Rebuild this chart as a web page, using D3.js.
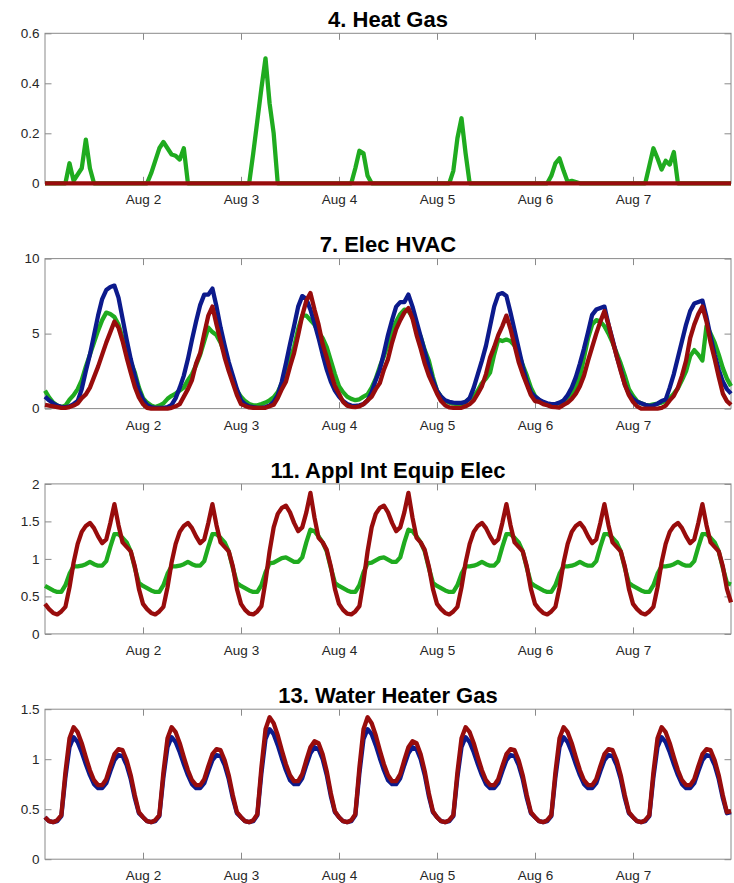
<!DOCTYPE html>
<html>
<head>
<meta charset="utf-8">
<script src="https://cdn.jsdelivr.net/npm/d3@7"></script>
<style>
  body { margin: 0; background: #fff; }
  svg { display: block; }
  .title { font-family: "Liberation Sans", Arial, sans-serif; font-size: 22px; font-weight: bold; fill: #000; }
</style>
</head>
<body>
<svg id="chart" width="734" height="883"></svg>
<script>
// x axis: Aug 1 00:00 .. Aug 8 00:00, hourly samples
const startDay = 1, endDay = 8
const tickDays = [2, 3, 4, 5, 6, 7]
const titles = ["4. Heat Gas", "7. Elec HVAC", "11. Appl Int Equip Elec", "13. Water Heater Gas"]
const yMaxes = [0.6, 10, 2, 1.5]
const yTicks = [[0, 0.2, 0.4, 0.6], [0, 5, 10], [0, 0.5, 1, 1.5, 2], [0, 0.5, 1, 1.5]]

// 4. Heat Gas, green series, one row per day (24 hourly values), then Aug 8 00:00
const heatGreenDays = [
  [0, 0, 0, 0, 0, 0, 0.08, 0.01, 0.035, 0.06, 0.175, 0.06, 0, 0, 0, 0, 0, 0, 0, 0, 0, 0, 0, 0],
  [0, 0, 0.04, 0.09, 0.14, 0.165, 0.14, 0.115, 0.11, 0.095, 0.14, 0, 0, 0, 0, 0, 0, 0, 0, 0, 0, 0, 0, 0],
  [0, 0, 0, 0.12, 0.25, 0.38, 0.5, 0.32, 0.2, 0, 0, 0, 0, 0, 0, 0, 0, 0, 0, 0, 0, 0, 0, 0],
  [0, 0, 0, 0, 0.06, 0.13, 0.12, 0.03, 0, 0, 0, 0, 0, 0, 0, 0, 0, 0, 0, 0, 0, 0, 0, 0],
  [0, 0, 0, 0, 0.05, 0.18, 0.26, 0.12, 0, 0, 0, 0, 0, 0, 0, 0, 0, 0, 0, 0, 0, 0, 0, 0],
  [0, 0, 0, 0, 0.03, 0.08, 0.1, 0.05, 0.005, 0.01, 0.005, 0, 0, 0, 0, 0, 0, 0, 0, 0, 0, 0, 0, 0],
  [0, 0, 0, 0, 0.07, 0.14, 0.1, 0.055, 0.09, 0.075, 0.125, 0, 0, 0, 0, 0, 0, 0, 0, 0, 0, 0, 0, 0]
]
const heatGreenEnd = 0
// the other two runs stay at zero the whole week
const heatBaseHours = [0, 168]
const heatBaseVals = [0, 0]

// 7. Elec HVAC
const hvacGreenDays = [
  [1.2, 0.75, 0.4, 0.2, 0.1, 0.2, 0.6, 0.9, 1.3, 1.9, 2.8, 3.6, 4.4, 5.2, 5.9, 6.4, 6.3, 6.1, 5.6, 4.7, 4.0, 3.1, 2.4, 1.4],
  [0.7, 0.4, 0.2, 0.1, 0.2, 0.35, 0.65, 0.85, 1.0, 1.2, 1.4, 1.9, 2.3, 2.9, 3.6, 4.5, 5.4, 5.1, 4.9, 4.4, 3.7, 2.9, 2.0, 1.2],
  [0.8, 0.5, 0.3, 0.22, 0.22, 0.3, 0.4, 0.55, 0.75, 1.1, 1.7, 2.4, 3.3, 4.1, 5.3, 6.2, 6.2, 5.9, 5.6, 5.1, 4.7, 4.1, 3.2, 2.3],
  [1.5, 1.1, 0.8, 0.65, 0.56, 0.62, 0.8, 0.95, 1.4, 2.0, 2.8, 3.5, 4.3, 5.1, 5.8, 6.3, 6.6, 6.5, 6.1, 5.4, 4.8, 3.9, 3.2, 2.1],
  [1.2, 0.8, 0.5, 0.4, 0.33, 0.3, 0.27, 0.45, 0.65, 0.85, 1.2, 1.7, 2.0, 2.4, 3.6, 4.6, 4.5, 4.6, 4.5, 4.2, 3.7, 2.9, 2.2, 1.4],
  [0.85, 0.55, 0.42, 0.3, 0.27, 0.3, 0.35, 0.5, 0.75, 1.0, 1.5, 2.1, 3.4, 4.7, 5.6, 5.9, 5.8, 5.5, 5.0, 4.4, 3.7, 3.0, 2.2, 1.3],
  [0.85, 0.5, 0.35, 0.25, 0.22, 0.28, 0.33, 0.4, 0.5, 0.7, 1.0, 1.35, 1.9, 2.5, 3.5, 3.9, 3.6, 3.2, 5.5, 5.0, 4.4, 3.6, 2.7, 2.0]
]
const hvacGreenEnd = 1.5
const hvacBlueDays = [
  [0.8, 0.55, 0.35, 0.2, 0.12, 0.1, 0.15, 0.3, 0.5, 1.3, 2.5, 3.6, 4.9, 6.2, 7.3, 7.9, 8.1, 8.2, 7.4, 6.0, 4.6, 3.3, 2.2, 1.2],
  [0.6, 0.25, 0.1, 0.05, 0.05, 0.05, 0.1, 0.25, 0.7, 1.4, 2.2, 3.3, 4.6, 5.8, 6.9, 7.6, 7.6, 8.0, 6.8, 5.4, 4.2, 3.1, 2.2, 1.3],
  [0.55, 0.3, 0.15, 0.1, 0.05, 0.05, 0.1, 0.2, 0.45, 0.9, 1.8, 3.0, 4.3, 5.5, 6.8, 7.5, 7.3, 6.6, 5.7, 4.7, 3.6, 2.6, 1.8, 1.2],
  [0.8, 0.5, 0.3, 0.2, 0.18, 0.22, 0.3, 0.55, 1.1, 1.9, 2.6, 3.7, 4.9, 5.9, 6.8, 7.1, 7.1, 7.6, 6.8, 5.8, 4.8, 3.8, 2.8, 1.9],
  [1.2, 0.8, 0.55, 0.45, 0.4, 0.38, 0.38, 0.45, 0.7, 1.4, 2.3, 3.2, 4.2, 5.5, 6.8, 7.6, 7.7, 7.5, 6.4, 5.2, 4.0, 2.8, 1.8, 1.1],
  [0.8, 0.6, 0.45, 0.35, 0.3, 0.3, 0.4, 0.55, 0.9, 1.4, 2.1, 3.0, 4.0, 5.1, 6.25, 6.6, 6.7, 6.8, 5.6, 4.6, 3.5, 2.6, 1.6, 1.0],
  [0.65, 0.45, 0.35, 0.25, 0.18, 0.22, 0.33, 0.5, 0.6, 1.4, 2.3, 3.4, 4.5, 5.6, 6.5, 7.0, 7.1, 7.2, 6.1, 4.8, 3.6, 2.6, 1.8, 1.3]
]
const hvacBlueEnd = 1.0
const hvacRedDays = [
  [0.25, 0.2, 0.15, 0.1, 0.05, 0.05, 0.1, 0.2, 0.35, 0.7, 0.95, 1.4, 2.1, 2.8, 3.6, 4.4, 5.1, 5.8, 5.4, 4.5, 3.4, 2.4, 1.45, 0.75],
  [0.3, 0.05, 0, 0, 0, 0, 0, 0.05, 0.15, 0.3, 0.8, 1.3, 1.9, 3.0, 3.7, 5.0, 6.2, 6.8, 5.6, 4.5, 3.4, 2.5, 1.7, 0.9],
  [0.3, 0.18, 0.08, 0.05, 0.05, 0.05, 0.05, 0.15, 0.25, 0.7, 1.3, 1.8, 2.8, 3.7, 4.9, 6.2, 7.2, 7.7, 6.6, 5.6, 4.3, 3.4, 2.4, 1.5],
  [1.0, 0.45, 0.2, 0.12, 0.1, 0.15, 0.3, 0.55, 0.8, 1.3, 1.7, 2.6, 3.3, 4.4, 5.3, 5.9, 6.4, 6.7, 6.0, 4.9, 4.0, 3.0, 2.2, 1.6],
  [1.0, 0.5, 0.22, 0.08, 0.05, 0.05, 0.05, 0.15, 0.3, 0.55, 1.0, 1.5, 2.3, 3.4, 4.1, 4.9, 5.5, 6.2, 5.3, 4.2, 3.1, 2.3, 1.6, 0.9],
  [0.5, 0.45, 0.3, 0.22, 0.12, 0.1, 0.07, 0.25, 0.4, 0.65, 1.0, 1.5, 2.2, 3.2, 4.1, 5.0, 5.8, 6.5, 5.6, 4.5, 3.5, 2.5, 1.6, 0.9],
  [0.45, 0.15, 0, 0, 0, 0, 0, 0.05, 0.2, 0.55, 0.85, 1.4, 2.2, 3.2, 4.7, 5.6, 6.3, 6.8, 5.8, 4.4, 3.3, 2.1, 1.0, 0.5]
]
const hvacRedEnd = 0.25

// 11 and 13 repeat a weekday profile and a weekend profile (Aug 3, Aug 4)
const dayKinds = ["wd", "wd", "we", "we", "wd", "wd", "wd"]

const equipGreenWeekday = [0.64, 0.61, 0.58, 0.56, 0.56, 0.65, 0.80, 0.90, 0.90, 0.91, 0.93, 0.96, 0.93, 0.91, 0.91, 0.97, 1.16, 1.33, 1.33, 1.28, 1.22, 1.10, 0.88, 0.68]
const equipGreenWeekend = [0.64, 0.61, 0.58, 0.56, 0.56, 0.65, 0.82, 0.94, 0.95, 0.98, 1.01, 1.02, 0.99, 0.96, 0.96, 1.02, 1.22, 1.39, 1.37, 1.30, 1.22, 1.10, 0.88, 0.68]
const equipRedWeekday = [0.40, 0.33, 0.28, 0.26, 0.30, 0.36, 0.62, 0.95, 1.20, 1.36, 1.44, 1.48, 1.41, 1.30, 1.21, 1.26, 1.48, 1.73, 1.45, 1.22, 1.16, 1.10, 0.90, 0.60]
const equipRedWeekend = [0.40, 0.32, 0.27, 0.26, 0.30, 0.37, 0.70, 1.10, 1.42, 1.60, 1.68, 1.71, 1.62, 1.48, 1.37, 1.42, 1.62, 1.88, 1.55, 1.28, 1.22, 1.12, 0.90, 0.60]
const equipGreenEnd = 0.66
const equipRedEnd = 0.42

const waterBlueWeekday = [0.42, 0.38, 0.37, 0.38, 0.43, 0.82, 1.12, 1.22, 1.17, 1.07, 0.95, 0.84, 0.75, 0.71, 0.71, 0.76, 0.88, 0.99, 1.04, 1.03, 0.94, 0.80, 0.61, 0.46]
const waterBlueWeekend = [0.42, 0.38, 0.37, 0.38, 0.44, 0.86, 1.20, 1.30, 1.25, 1.14, 1.01, 0.89, 0.79, 0.75, 0.75, 0.81, 0.94, 1.06, 1.12, 1.10, 1.00, 0.84, 0.63, 0.47]
const waterRedWeekday = [0.42, 0.38, 0.37, 0.39, 0.44, 0.87, 1.21, 1.32, 1.27, 1.16, 1.02, 0.89, 0.79, 0.74, 0.74, 0.80, 0.93, 1.05, 1.10, 1.09, 0.99, 0.84, 0.64, 0.47]
const waterRedWeekend = [0.42, 0.38, 0.37, 0.39, 0.45, 0.92, 1.30, 1.42, 1.36, 1.24, 1.09, 0.95, 0.84, 0.78, 0.78, 0.85, 0.99, 1.12, 1.18, 1.16, 1.05, 0.88, 0.66, 0.48]
const waterBlueEnd = 0.47
const waterRedEnd = 0.48

const GREEN = "#1fab1f", BLUE = "#0c1a8c", RED = "#980c0c"

const fromDays = (days, end) => days.flat().concat(end)
const fromKinds = (wd, we, end) => dayKinds.flatMap((k) => (k === "we" ? we : wd)).concat(end)

const t0 = new Date(2013, 7, startDay)
const t1 = new Date(2013, 7, endDay)
const atHour = (h) => new Date(t0.getTime() + h * 3600e3)
const hourly = d3.range(0, 169).map(atHour)
const tickDates = tickDays.map((d) => new Date(2013, 7, d))

const panels = [
  { series: [
      { t: hourly, v: fromDays(heatGreenDays, heatGreenEnd), c: GREEN },
      { t: heatBaseHours.map(atHour), v: heatBaseVals, c: RED }
  ] },
  { series: [
      { t: hourly, v: fromDays(hvacGreenDays, hvacGreenEnd), c: GREEN },
      { t: hourly, v: fromDays(hvacBlueDays, hvacBlueEnd), c: BLUE },
      { t: hourly, v: fromDays(hvacRedDays, hvacRedEnd), c: RED }
  ] },
  { series: [
      { t: hourly, v: fromKinds(equipGreenWeekday, equipGreenWeekend, equipGreenEnd), c: GREEN },
      { t: hourly, v: fromKinds(equipRedWeekday, equipRedWeekend, equipRedEnd), c: RED }
  ] },
  { series: [
      { t: hourly, v: fromKinds(waterBlueWeekday, waterBlueWeekend, waterBlueEnd), c: BLUE },
      { t: hourly, v: fromKinds(waterRedWeekday, waterRedWeekend, waterRedEnd), c: RED }
  ] }
]

const svg = d3.select("#chart")
svg.append("rect").attr("width", 734).attr("height", 883).attr("fill", "#fff")

const LEFT = 45, RIGHT = 731, TOP0 = 33.3, STEP = 225.3, H = 150, TICK = 6.5
const AXIS_COLOR = "#8a8a8a"
const fmtDay = d3.timeFormat("%b %-d")

const styleAxis = (g) => {
  g.select(".domain").remove()
  g.selectAll(".tick line").attr("stroke", AXIS_COLOR)
  g.selectAll(".tick text")
    .attr("fill", "#262626")
    .attr("font-family", "'Liberation Sans', Arial, sans-serif")
    .attr("font-size", 13.5)
}

panels.forEach((p, i) => {
  const top = TOP0 + i * STEP, bottom = top + H
  const x = d3.scaleTime().domain([t0, t1]).range([LEFT, RIGHT])
  const y = d3.scaleLinear().domain([0, yMaxes[i]]).range([bottom, top])
  const g = svg.append("g")

  g.append("rect").attr("x", LEFT).attr("y", top).attr("width", RIGHT - LEFT).attr("height", H)
    .attr("fill", "none").attr("stroke", AXIS_COLOR).attr("stroke-width", 1)

  g.append("g").attr("transform", `translate(0,${bottom})`)
    .call(d3.axisBottom(x).tickValues(tickDates).tickFormat(fmtDay).tickSizeInner(-TICK).tickSizeOuter(0).tickPadding(11.4))
    .call(styleAxis)
  g.append("g").attr("transform", `translate(0,${top})`)
    .call(d3.axisTop(x).tickValues(tickDates).tickFormat("").tickSizeInner(-TICK).tickSizeOuter(0))
    .call(styleAxis)
  g.append("g").attr("transform", `translate(${LEFT},0)`)
    .call(d3.axisLeft(y).tickValues(yTicks[i]).tickFormat(d3.format("~g")).tickSizeInner(-TICK).tickSizeOuter(0).tickPadding(5.5))
    .call(styleAxis)
  g.append("g").attr("transform", `translate(${RIGHT},0)`)
    .call(d3.axisRight(y).tickValues(yTicks[i]).tickFormat("").tickSizeInner(-TICK).tickSizeOuter(0))
    .call(styleAxis)

  p.series.forEach((s) => {
    const line = d3.line().x((d, j) => x(s.t[j])).y((d) => y(d))
    g.append("path").attr("d", line(s.v))
      .attr("fill", "none").attr("stroke", s.c).attr("stroke-width", 4.3)
      .attr("stroke-linejoin", "round").attr("stroke-linecap", "butt")
  })

  g.append("text").attr("class", "title")
    .attr("x", (LEFT + RIGHT) / 2).attr("y", top - 6.3)
    .attr("text-anchor", "middle").text(titles[i])
})
</script>
</body>
</html>
